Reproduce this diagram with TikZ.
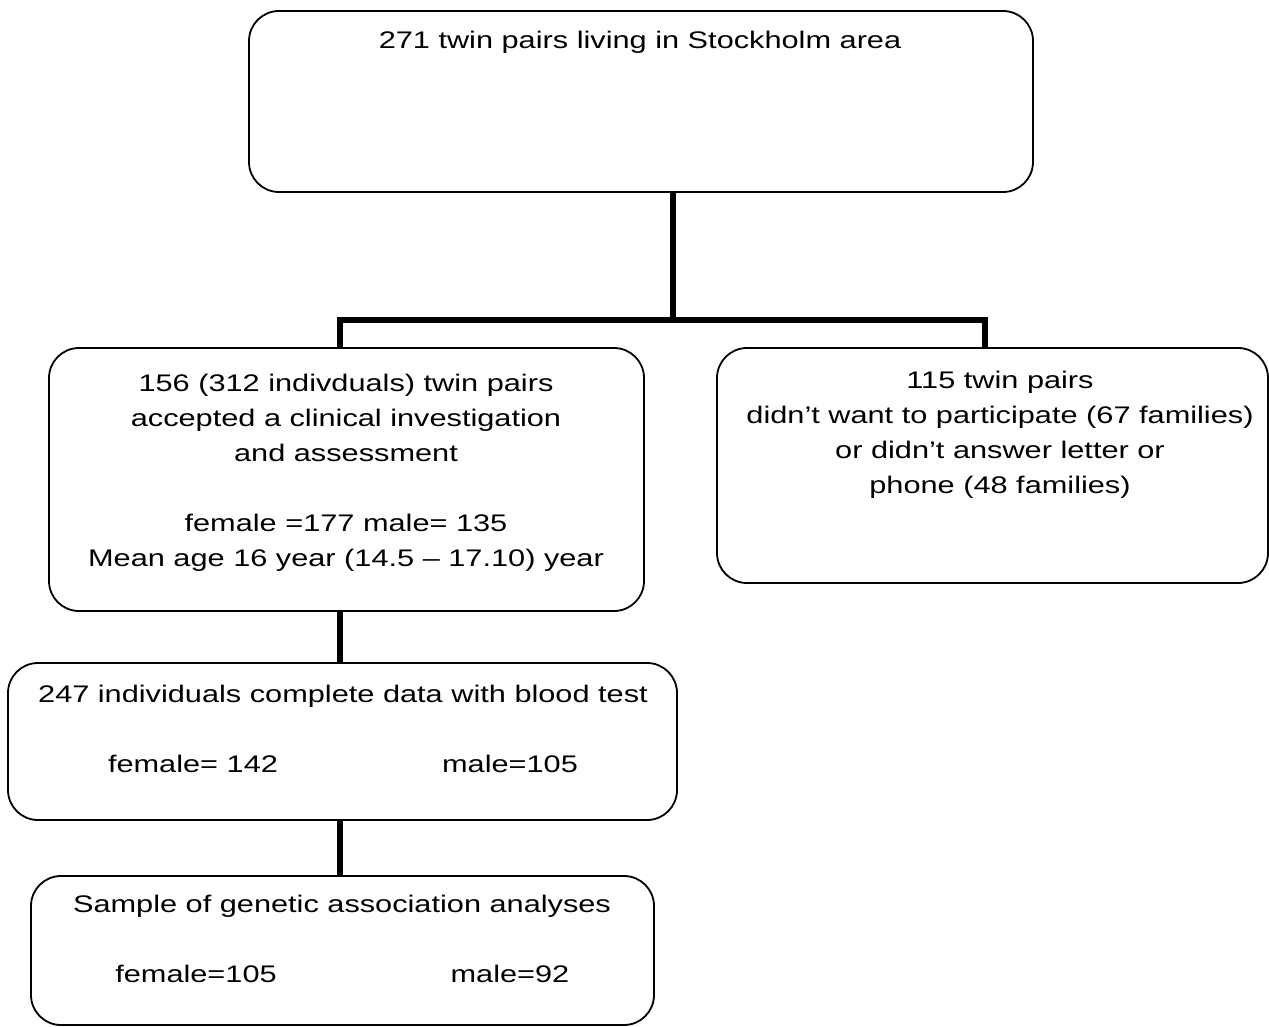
\documentclass[tikz,border=0pt]{standalone}
\usepackage{fontspec}
\setmainfont[FakeStretch=1.28]{Liberation Sans}

\begin{document}
\begin{tikzpicture}[x=0.5pt,y=-0.5pt,
  every node/.style={font=\fontsize{12}{17.5}\selectfont,inner sep=0pt},
  box/.style={draw,rounded corners=15pt,line width=0.9pt},
  txt/.style={anchor=base,align=center},
  link/.style={line width=2.6pt}]
  \useasboundingbox (0,0) rectangle (1269,1027);
  % boxes
  \node[box,minimum width=392pt,minimum height=90.5pt] (pairs) at (641,101.5) {};
  \node[txt] (pairsText) at (640,49) {271 twin pairs living in Stockholm area};
  \node[box,minimum width=297.5pt,minimum height=131.5pt] (accept) at (346.5,479.5) {};
  \node[txt] (acceptText) at (346,566) {156 (312 indivduals) twin pairs\\
    accepted a clinical investigation\\ and assessment\\[17.5pt]
    female =177 male= 135\\ Mean age 16 year (14.5 – 17.10) year};
  \node[box,minimum width=275.5pt,minimum height=117.5pt] (refuse) at (992.5,465.5) {};
  \node[txt] (refuseText) at (1000,493) {115 twin pairs\\
    didn’t want to participate (67 families)\\ or didn’t answer letter or\\
    phone (48 families)};
  \node[box,minimum width=334.5pt,minimum height=78.5pt] (blood) at (342.5,741.5) {};
  \node[txt] (bloodText) at (343,702) {247 individuals complete data with blood test};
  \node[txt] (bloodF) at (193,772) {female= 142};
  \node[txt] (bloodM) at (510,772) {male=105};
  \node[box,minimum width=311.5pt,minimum height=74.5pt] (sample) at (342.5,950.5) {};
  \node[txt] (sampleText) at (342,912) {Sample of genetic association analyses};
  \node[txt] (sampleF) at (196,982) {female=105};
  \node[txt] (sampleM) at (510,982) {male=92};
  % connectors
  \coordinate (split) at (673,320);
  \coordinate (splitL) at (340,320);
  \coordinate (splitR) at (985,320);
  \draw[link] (pairs.south -| split) -- (split);
  \draw[link] (splitL |- accept.north) -- (splitL) -- (splitR) -- (splitR |- refuse.north);
  \draw[link] (accept.south -| splitL) -- (blood.north -| splitL);
  \draw[link] (blood.south -| splitL) -- (sample.north -| splitL);
\end{tikzpicture}
\end{document}
